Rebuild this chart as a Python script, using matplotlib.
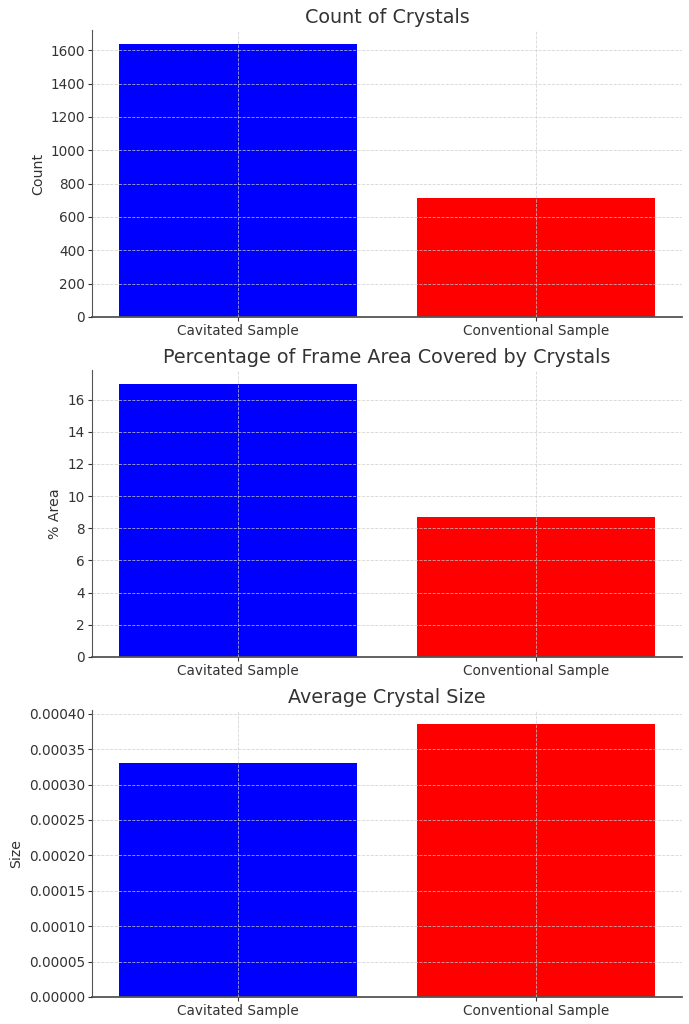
import matplotlib.pyplot as plt

SAMPLES = ["Cavitated Sample", "Conventional Sample"]
COLORS = ["blue", "red"]

COUNT = [1640, 714]
AREA_PCT = [16.99, 8.68]
AVG_SIZE = [0.000331, 0.000386]

TITLES = ["Count of Crystals",
          "Percentage of Frame Area Covered by Crystals",
          "Average Crystal Size"]
YLABELS = ["Count", "% Area", "Size"]

INK = "#333333"
plt.rcParams.update({
    "font.family": "DejaVu Sans",
    "text.color": INK,
    "axes.labelcolor": INK,
    "xtick.color": INK,
    "ytick.color": INK,
    "axes.edgecolor": "#555555",
})

fig, axes = plt.subplots(3, 1, figsize=(6.89, 10.24), dpi=100)
fig.subplots_adjust(left=0.1335, right=0.99, top=0.9707, bottom=0.0264,
                    hspace=0.185)

for ax, vals, title, ylab in zip(axes, [COUNT, AREA_PCT, AVG_SIZE],
                                 TITLES, YLABELS):
    ax.bar(SAMPLES, vals, color=COLORS, width=0.8)
    ax.set_title(title, fontsize=13.8, pad=5)
    ax.set_ylabel(ylab, fontsize=10.2, labelpad=4)
    ax.tick_params(labelsize=9.8, length=3, width=0.8, pad=2)
    ax.spines[["top", "right"]].set_visible(False)
    ax.spines["bottom"].set_linewidth(1.3)
    ax.grid(True, ls="--", color="#cccccc", lw=0.6, alpha=0.8)
    ax.set_axisbelow(False)

axes[2].yaxis.set_major_formatter(plt.FormatStrFormatter("%.5f"))

fig.savefig("out.png", dpi=100)
